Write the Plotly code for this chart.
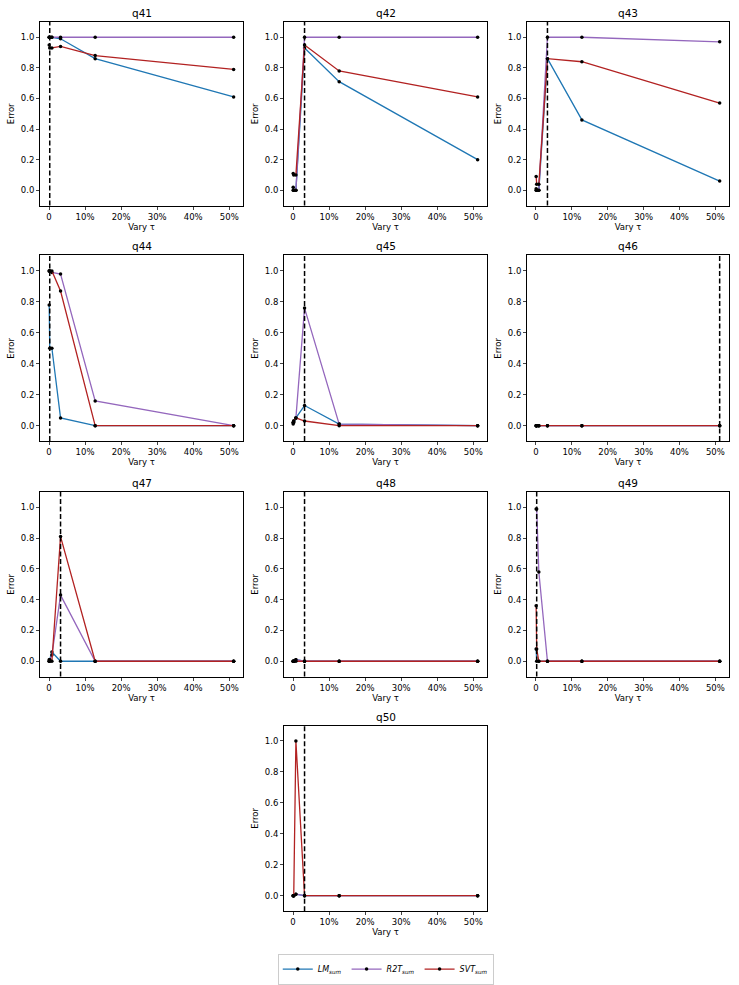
import plotly.graph_objects as go

# ---------------- data ----------------
tau = [0.05, 0.2, 0.8, 3.2, 12.8, 51.2]  # percent
queries = ["q41", "q42", "q43", "q44", "q45", "q46", "q47", "q48", "q49", "q50"]

lm_sum = {
    "q41": [1.00, 1.00, 1.00, 0.99, 0.86, 0.61],
    "q42": [0.02, 0.00, 0.00, 0.93, 0.71, 0.20],
    "q43": [0.01, 0.00, 0.00, 0.86, 0.46, 0.06],
    "q44": [0.78, 0.50, 0.50, 0.05, 0.00, 0.00],
    "q45": [0.01, 0.02, 0.05, 0.13, 0.01, 0.00],
    "q46": [0.00, 0.00, 0.00, 0.00, 0.00, 0.00],
    "q47": [0.00, 0.01, 0.06, 0.00, 0.00, 0.00],
    "q48": [0.00, 0.00, 0.01, 0.00, 0.00, 0.00],
    "q49": [0.08, 0.00, 0.00, 0.00, 0.00, 0.00],
    "q50": [0.00, 0.00, 0.01, 0.00, 0.00, 0.00],
}
r2t_sum = {
    "q41": [1.00, 1.00, 1.00, 1.00, 1.00, 1.00],
    "q42": [0.00, 0.00, 0.00, 1.00, 1.00, 1.00],
    "q43": [0.00, 0.00, 0.00, 1.00, 1.00, 0.97],
    "q44": [1.00, 1.00, 0.99, 0.98, 0.16, 0.00],
    "q45": [0.02, 0.03, 0.05, 0.76, 0.01, 0.00],
    "q46": [0.00, 0.00, 0.00, 0.00, 0.00, 0.00],
    "q47": [0.00, 0.01, 0.04, 0.43, 0.00, 0.00],
    "q48": [0.00, 0.00, 0.01, 0.00, 0.00, 0.00],
    "q49": [0.99, 0.99, 0.58, 0.00, 0.00, 0.00],
    "q50": [0.00, 0.00, 0.01, 0.00, 0.00, 0.00],
}
svt_sum = {
    "q41": [0.95, 0.93, 0.93, 0.94, 0.88, 0.79],
    "q42": [0.11, 0.10, 0.10, 0.95, 0.78, 0.61],
    "q43": [0.09, 0.04, 0.04, 0.86, 0.84, 0.57],
    "q44": [1.00, 1.00, 1.00, 0.87, 0.00, 0.00],
    "q45": [0.02, 0.03, 0.05, 0.03, 0.00, 0.00],
    "q46": [0.00, 0.00, 0.00, 0.00, 0.00, 0.00],
    "q47": [0.01, 0.00, 0.00, 0.81, 0.00, 0.00],
    "q48": [0.00, 0.00, 0.00, 0.00, 0.00, 0.00],
    "q49": [0.36, 0.08, 0.00, 0.00, 0.00, 0.00],
    "q50": [0.00, 0.00, 1.00, 0.00, 0.00, 0.00],
}
best_tau = {
    "q41": 0.2, "q42": 3.2, "q43": 3.2, "q44": 0.2, "q45": 3.2,
    "q46": 51.2, "q47": 3.2, "q48": 3.2, "q49": 0.2, "q50": 3.2,
}
x_tickvals = [0, 10, 20, 30, 40, 50]
x_ticktext = ["0", "10%", "20%", "30%", "40%", "50%"]
y_tickvals = [0.0, 0.2, 0.4, 0.6, 0.8, 1.0]
y_ticktext = ["0.0", "0.2", "0.4", "0.6", "0.8", "1.0"]

series = [
    ("<i>LM</i><sub><i>sum</i></sub>", lm_sum, "#1f77b4"),
    ("<i>R2T</i><sub><i>sum</i></sub>", r2t_sum, "#9467bd"),
    ("<i>SVT</i><sub><i>sum</i></sub>", svt_sum, "#b22222"),
]

# ---------------- layout geometry ----------------
W, H = 739, 985
col_px = [(40, 243), (284, 487), (527, 729)]
row_px = [(22, 206), (256, 442), (493, 678), (727, 913)]
positions = [(0, 0), (0, 1), (0, 2), (1, 0), (1, 1), (1, 2), (2, 0), (2, 1), (2, 2), (3, 1)]

FONT = "DejaVu Sans"
fig = go.Figure()
layout = dict(
    width=W, height=H,
    margin=dict(l=0, r=0, t=0, b=0),
    paper_bgcolor="white", plot_bgcolor="white",
    font=dict(family=FONT, size=8, color="black"),
    showlegend=True,
    legend=dict(
        orientation="h", x=0.522, xanchor="center", y=1 - 971 / H, yanchor="middle",
        bordercolor="#cccccc", borderwidth=1, bgcolor="white",
        font=dict(family=FONT, size=8, color="black"), itemwidth=30, tracegroupgap=0,
    ),
)
shapes = []
annotations = []

for i, q in enumerate(queries):
    r, c = positions[i]
    k = i + 1
    xa = "x" if k == 1 else f"x{k}"
    ya = "y" if k == 1 else f"y{k}"
    xkey = "xaxis" if k == 1 else f"xaxis{k}"
    ykey = "yaxis" if k == 1 else f"yaxis{k}"
    x0, x1 = col_px[c]
    y0, y1 = row_px[r]
    layout[xkey] = dict(
        domain=[x0 / W, x1 / W], anchor=ya, range=[-2.5, 53.8],
        tickvals=x_tickvals, ticktext=x_ticktext, ticks="outside", ticklen=3,
        showline=True, linecolor="black", linewidth=1, mirror=True,
        showgrid=False, zeroline=False, tickfont=dict(size=8.5),
        title=dict(text="Vary τ", font=dict(size=8.5), standoff=2),
    )
    layout[ykey] = dict(
        domain=[1 - y1 / H, 1 - y0 / H], anchor=xa, range=[-0.1, 1.1],
        tickvals=y_tickvals, ticktext=y_ticktext, ticks="outside", ticklen=3,
        showline=True, linecolor="black", linewidth=1, mirror=True,
        showgrid=False, zeroline=False, tickfont=dict(size=8.5),
        title=dict(text="Error", font=dict(size=8.5), standoff=4),
    )
    annotations.append(dict(
        text=q, xref="paper", yref="paper", x=(x0 + x1) / 2 / W, y=1 - (y0 - 9) / H,
        xanchor="center", yanchor="middle", showarrow=False, font=dict(size=10.5),
    ))
    for name, d, color in series:
        fig.add_trace(go.Scatter(
            x=tau, y=d[q], mode="lines+markers", name=name,
            line=dict(color=color, width=1.3),
            marker=dict(color="black", size=3.5),
            xaxis=xa, yaxis=ya, showlegend=(i == 0), legendgroup=name,
        ))
    shapes.append(dict(
        type="line", xref=xa, yref=f"{ya} domain", x0=best_tau[q], x1=best_tau[q],
        y0=0, y1=1, line=dict(color="black", width=1.5, dash="5px,2.5px"), layer="above",
    ))

layout["shapes"] = shapes
layout["annotations"] = annotations
fig.update_layout(**layout)
fig.write_html(
    "out.html",
    config={"displayModeBar": False},
    post_script="document.body.style.margin='0';document.body.style.padding='0';",
)
